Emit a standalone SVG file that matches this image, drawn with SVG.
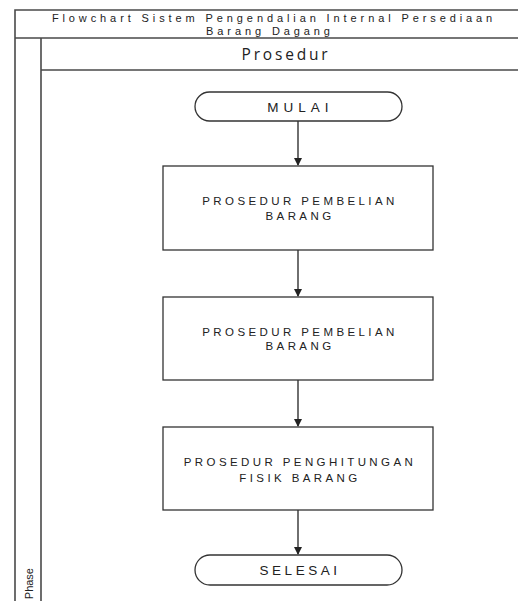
<svg xmlns="http://www.w3.org/2000/svg" width="518" height="601" viewBox="0 0 518 601">
<style>
.lane{fill:none;stroke:#4a4a4a;stroke-width:1.6}
.shape{fill:#fff;stroke:#333;stroke-width:1.3}
.conn{fill:none;stroke:#222;stroke-width:1.3}
.t{font-family:"Liberation Sans",Arial,sans-serif;fill:#222;text-anchor:middle}
.box{font-size:11.5px;letter-spacing:3.4px}
.hdr{font-family:"Open Sans","Liberation Sans",sans-serif;fill:#222;text-anchor:middle}
.ttl{font-family:"Liberation Sans",Arial,sans-serif;fill:#222;text-anchor:middle;font-size:11px;letter-spacing:3.9px}
</style>
<defs>
<marker id="arr" markerWidth="8" markerHeight="8" refX="7" refY="4" orient="auto" markerUnits="userSpaceOnUse">
<path d="M0,0 L8,4 L0,8 z" fill="#222"/>
</marker>
</defs>
<rect width="518" height="601" fill="#fff"/>
<g id="pool">
<path class="lane" d="M15,601 V10 H525 M15,38 H525 M41,38 V601 M41,70 H525"/>
<text class="ttl" x="274" y="21.5">Flowchart Sistem Pengendalian Internal Persediaan</text>
<text class="ttl" x="270" y="35">Barang Dagang</text>
<text class="hdr" x="286" y="60" font-size="15.5" letter-spacing="2.8">Prosedur</text>
<text class="t" transform="translate(33,568) rotate(-90)" font-size="11" style="text-anchor:end">Phase</text>
</g>
<g id="connectors">
<path class="conn" d="M298,121 V165" marker-end="url(#arr)"/>
<path class="conn" d="M298,250 V296" marker-end="url(#arr)"/>
<path class="conn" d="M298,380 V426" marker-end="url(#arr)"/>
<path class="conn" d="M298,510 V554" marker-end="url(#arr)"/>
</g>
<g id="mulai">
<rect class="shape" x="195" y="92" width="207" height="29" rx="14.5" ry="14.5"/>
<text class="t" x="300.5" y="112" font-size="13.5" letter-spacing="5">MULAI</text>
</g>
<g id="pembelian1">
<rect class="shape" x="163" y="166" width="270" height="84"/>
<text class="t box" x="300" y="205">PROSEDUR PEMBELIAN</text>
<text class="t box" x="300" y="220">BARANG</text>
</g>
<g id="pembelian2">
<rect class="shape" x="163" y="297" width="270" height="83"/>
<text class="t box" x="300" y="336">PROSEDUR PEMBELIAN</text>
<text class="t box" x="300" y="350">BARANG</text>
</g>
<g id="penghitungan">
<rect class="shape" x="163" y="427" width="270" height="83"/>
<text class="t box" x="300" y="466">PROSEDUR PENGHITUNGAN</text>
<text class="t box" x="300" y="482">FISIK BARANG</text>
</g>
<g id="selesai">
<rect class="shape" x="195" y="555" width="207" height="30" rx="15" ry="15"/>
<text class="t" x="300" y="575" font-size="13.5" letter-spacing="3.5">SELESAI</text>
</g>
</svg>
